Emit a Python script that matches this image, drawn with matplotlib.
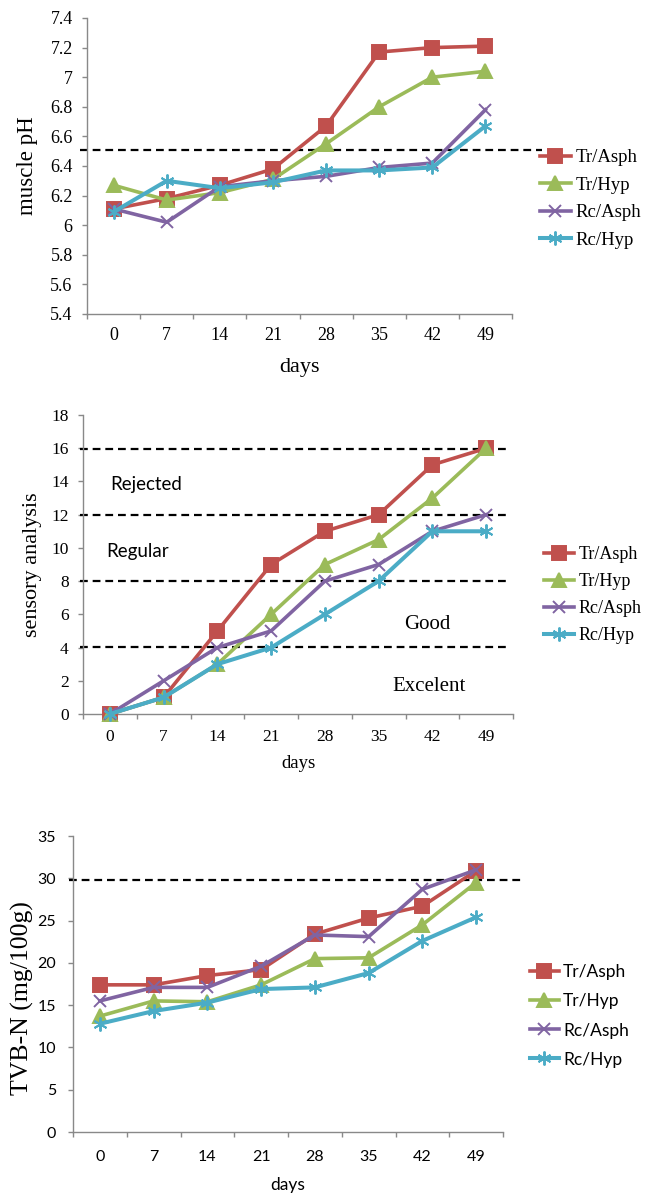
import matplotlib
matplotlib.use("Agg")
import matplotlib.pyplot as plt
import matplotlib.transforms as mtransforms
import numpy as np

# ---------------- data ----------------
days = ['0', '7', '14', '21', '28', '35', '42', '49']
series_names = ['Tr/Asph', 'Tr/Hyp', 'Rc/Asph', 'Rc/Hyp']

ph_tr_asph = [6.11, 6.18, 6.27, 6.38, 6.67, 7.17, 7.20, 7.21]
ph_tr_hyp = [6.27, 6.17, 6.22, 6.31, 6.55, 6.80, 7.00, 7.04]
ph_rc_asph = [6.11, 6.02, 6.26, 6.30, 6.33, 6.39, 6.42, 6.78]
ph_rc_hyp = [6.09, 6.30, 6.25, 6.29, 6.37, 6.37, 6.39, 6.67]

sens_tr_asph = [0, 1, 5, 9, 11, 12, 15, 16]
sens_tr_hyp = [0, 1, 3, 6, 9, 10.5, 13, 16]
sens_rc_asph = [0, 2, 4, 5, 8, 9, 11, 12]
sens_rc_hyp = [0, 1, 3, 4, 6, 8, 11, 11]

tvbn_tr_asph = [17.4, 17.4, 18.5, 19.2, 23.4, 25.3, 26.7, 30.9]
tvbn_tr_hyp = [13.7, 15.5, 15.4, 17.4, 20.5, 20.6, 24.5, 29.5]
tvbn_rc_asph = [15.5, 17.1, 17.1, 19.6, 23.3, 23.1, 28.7, 31.0]
tvbn_rc_hyp = [12.8, 14.3, 15.3, 16.9, 17.1, 18.8, 22.6, 25.4]

ph_ticks = [5.4, 5.6, 5.8, 6.0, 6.2, 6.4, 6.6, 6.8, 7.0, 7.2, 7.4]
ph_ticklabels = ['5.4', '5.6', '5.8', '6', '6.2', '6.4', '6.6', '6.8', '7', '7.2', '7.4']
sens_ticks = [0, 2, 4, 6, 8, 10, 12, 14, 16, 18]
tvbn_ticks = [0, 5, 10, 15, 20, 25, 30, 35]

ph_threshold = 6.51
sens_thresholds = [15.93, 12.0, 8.0, 4.03]
tvbn_threshold = 29.75

zone_labels = ['Rejected', 'Regular', 'Good', 'Excelent']
zone_x = [0.67, 0.52, 5.9, 5.94]
zone_y = [13.8, 9.8, 5.4, 1.65]

# ---------------- style ----------------
colors = ['#C0504D', '#9BBB59', '#8064A2', '#4BACC6']
markers = ['s', '^', 'x', (6, 2, 0)]
msizes = [10, 10, 8.5, 10]
lwidths = [2.6, 2.6, 2.6, 2.9]
SERIF = 'Liberation Serif'
SANS = 'Lato'
AXC = '#898989'

W, H = 661, 1193
fig = plt.figure(figsize=(W / 100, H / 100), dpi=100)


def add_ax(left, top, right, bottom):
    return fig.add_axes([left / W, 1 - bottom / H, (right - left) / W, (bottom - top) / H])


def style(ax, tick_font, xsize, ysize, xpad, ypad):
    for s in ['top', 'right']:
        ax.spines[s].set_visible(False)
    for s in ['left', 'bottom']:
        ax.spines[s].set_color(AXC)
        ax.spines[s].set_linewidth(1.0)
    ax.set_xlim(-0.5, 7.5)
    ax.set_xticks(np.arange(-0.5, 8.0, 1.0))
    ax.set_xticklabels([])
    ax.set_xticks(np.arange(len(days)), minor=True)
    ax.set_xticklabels(days, minor=True, fontfamily=tick_font, fontsize=xsize)
    ax.tick_params(axis='x', which='major', direction='out', length=3.8, width=1.0, color=AXC)
    ax.tick_params(axis='x', which='minor', length=0, pad=xpad)
    ax.tick_params(axis='y', direction='out', length=3.8, width=1.0, color=AXC, pad=ypad,
                   labelsize=ysize)
    for t in ax.get_yticklabels():
        t.set_fontfamily(tick_font)


def draw_series(ax, data):
    handles = []
    x = np.arange(len(days))
    for vals, c, m, ms, lw, name in zip(data, colors, markers, msizes, lwidths, series_names):
        ln, = ax.plot(x, vals, color=c, lw=lw, marker=m, markersize=ms,
                      markeredgewidth=1.4, markerfacecolor=c, markeredgecolor=c,
                      label=name, clip_on=False, zorder=3)
        handles.append(ln)
    return handles


def dashed(ax, y, x0, x1):
    tr = mtransforms.blended_transform_factory(ax.transAxes, ax.transData)
    ax.plot([x0, x1], [y, y], transform=tr, color='black', lw=1.6,
            linestyle=(0, (3.5, 2.2)), clip_on=False, zorder=2)


def legend(ax, handles, xpx, ypx, font, size, spacing):
    ax.legend(handles=handles, loc='center left',
              bbox_to_anchor=(xpx / W, 1 - ypx / H), bbox_transform=fig.transFigure,
              frameon=False, borderpad=0, borderaxespad=0,
              handlelength=1.65, handletextpad=0.25, labelspacing=spacing,
              prop={'family': font, 'size': size})


# ---------------- top: muscle pH ----------------
ax1 = add_ax(87, 18, 512, 314)
ax1.set_ylim(5.4, 7.4)
ax1.set_yticks(ph_ticks)
ax1.set_yticklabels(ph_ticklabels)
style(ax1, SERIF, 13, 13, 9.5, 6.5)
dashed(ax1, ph_threshold, -0.016, 1.071)
h1 = draw_series(ax1, [ph_tr_asph, ph_tr_hyp, ph_rc_asph, ph_rc_hyp])
ax1.text(0.5, -(368 - 314) / 296, 'days', transform=ax1.transAxes, ha='center', va='center',
         fontfamily=SERIF, fontsize=16)
ax1.text((28 - 87) / 425, 0.5, 'muscle pH', transform=ax1.transAxes, ha='center', va='center',
         rotation=90, fontfamily=SERIF, fontsize=16.5)
legend(ax1, h1, 540, 199, SERIF, 13.5, 0.55)

# ---------------- middle: sensory analysis ----------------
ax2 = add_ax(83, 415, 513, 714)
ax2.set_ylim(0, 18)
ax2.set_yticks(sens_ticks)
ax2.set_yticklabels([str(v) for v in sens_ticks])
style(ax2, SERIF, 12.5, 12.5, 11, 6.5)
for th in sens_thresholds:
    dashed(ax2, th, -0.007, 0.993)
h2 = draw_series(ax2, [sens_tr_asph, sens_tr_hyp, sens_rc_asph, sens_rc_hyp])
for lab, zx, zy, fam, fs in zip(zone_labels, zone_x, zone_y,
                                [SANS, SANS, SERIF, SERIF], [13.5, 13.5, 15, 15]):
    ax2.text(zx, zy, lab, ha='center', va='center', fontfamily=fam, fontsize=fs)
ax2.text(0.5, -(764 - 714) / 299, 'days', transform=ax2.transAxes, ha='center', va='center',
         fontfamily=SERIF, fontsize=13.5)
ax2.text((33 - 83) / 430, 0.5, 'sensory analysis', transform=ax2.transAxes, ha='center',
         va='center', rotation=90, fontfamily=SERIF, fontsize=16)
legend(ax2, h2, 544, 595, SERIF, 13, 0.55)

# ---------------- bottom: TVB-N ----------------
ax3 = add_ax(73, 836, 503, 1132)
ax3.set_ylim(0, 35)
ax3.set_yticks(tvbn_ticks)
ax3.set_yticklabels([str(v) for v in tvbn_ticks])
style(ax3, SANS, 11.5, 11.5, 13, 8.5)
dashed(ax3, tvbn_threshold, -0.009, 1.042)
h3 = draw_series(ax3, [tvbn_tr_asph, tvbn_tr_hyp, tvbn_rc_asph, tvbn_rc_hyp])
ax3.text(0.5, -(1185 - 1132) / 296, 'days', transform=ax3.transAxes, ha='center', va='center',
         fontfamily=SANS, fontsize=12.5)
ax3.text((22 - 73) / 430, (1132 - 998) / 296, 'TVB-N (mg/100g)', transform=ax3.transAxes,
         ha='center', va='center', rotation=90, fontfamily=SERIF, fontsize=18.5)
legend(ax3, h3, 530, 1016, SANS, 12.5, 0.75)

fig.savefig('out.png', dpi=100)
